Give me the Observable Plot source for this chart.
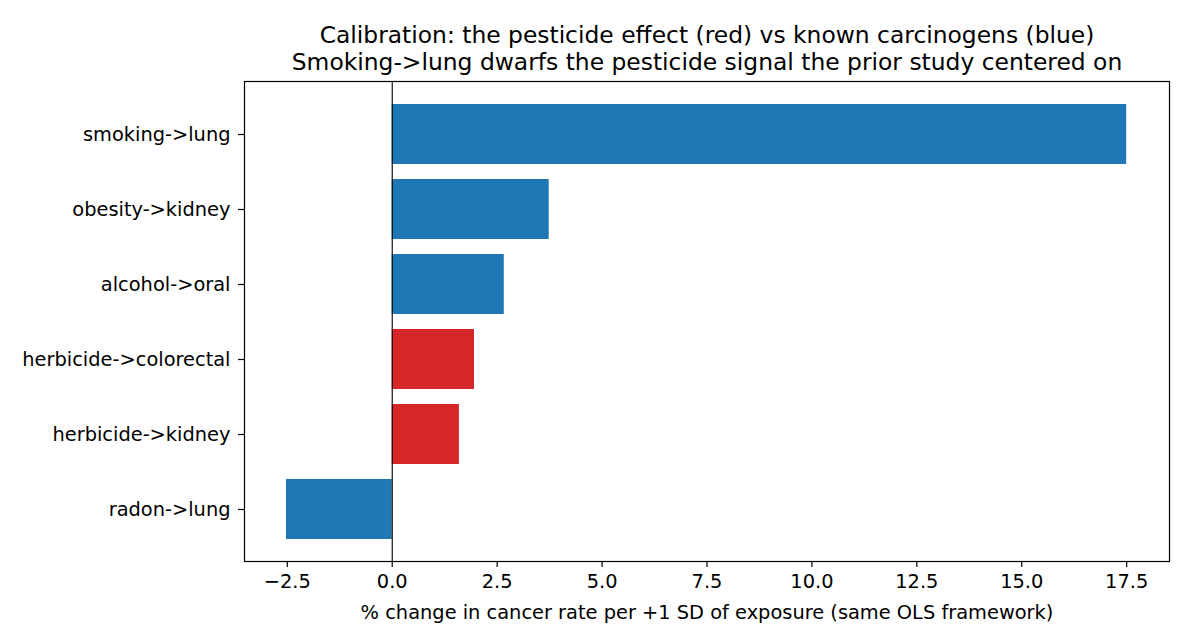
<!DOCTYPE html>
<html>
<head>
<meta charset="utf-8">
<script src="https://cdn.jsdelivr.net/npm/d3@7"></script>
<script src="https://cdn.jsdelivr.net/npm/@observablehq/plot@0.6"></script>
<style>
  body { margin: 0; background: #fff; }
  #chart svg { font-family: "DejaVu Sans", sans-serif; }
</style>
</head>
<body>
<div id="chart"></div>
<script>
// Effect sizes, % change in cancer rate per +1 SD of exposure
const exposures = [
  "smoking->lung",
  "obesity->kidney",
  "alcohol->oral",
  "herbicide->colorectal",
  "herbicide->kidney",
  "radon->lung"
];
const effects = [17.5, 3.74, 2.67, 1.96, 1.60, -2.52];
const groups = ["known", "known", "known", "pesticide", "pesticide", "known"];

const groupNames = ["known", "pesticide"];
const groupColors = ["#1f77b4", "#d62728"];

const xTicks = [-2.5, 0, 2.5, 5, 7.5, 10, 12.5, 15, 17.5];

const titleLines = [
  "Calibration: the pesticide effect (red) vs known carcinogens (blue)",
  "Smoking->lung dwarfs the pesticide signal the prior study centered on"
];
const xLabel = "% change in cancer rate per +1 SD of exposure (same OLS framework)";

const rows = exposures.map((e, i) => ({ exposure: e, effect: effects[i], group: groups[i] }));
const fmt = d => d.toFixed(1).replace("-", "\u2212");

const chart = Plot.plot({
  width: 1190,
  height: 644,
  marginLeft: 244,
  marginRight: 21,
  marginTop: 81,
  marginBottom: 83,
  style: { fontFamily: "DejaVu Sans, sans-serif", fontSize: "19.4px", background: "white", color: "black" },
  x: { domain: [-3.52, 18.52], label: null },
  y: { domain: exposures, paddingInner: 0.2, paddingOuter: 0.275, label: null },
  color: { domain: groupNames, range: groupColors },
  marks: [
    Plot.barX(rows, { x: "effect", y: "exposure", fill: "group" }),
    Plot.ruleX([0], { stroke: "black", strokeWidth: 1.1 }),
    Plot.frame({ stroke: "black", strokeWidth: 1.2 }),
    Plot.axisX({ ticks: xTicks, tickFormat: fmt, tickSize: 6, tickPadding: 7, label: null, strokeWidth: 1.2, fontSize: 19.4 }),
    Plot.axisY({ tickSize: 6, tickPadding: 8, label: null, strokeWidth: 1.2, fontSize: 19.4 }),
    Plot.text([xLabel], { text: d => d, frameAnchor: "bottom", lineAnchor: "middle", dy: 51, fontSize: 19.4, fill: "black" }),
    Plot.text([titleLines[0]], { text: d => d, frameAnchor: "top", lineAnchor: "middle", dy: -46, fontSize: 23.4, fill: "black" }),
    Plot.text([titleLines[1]], { text: d => d, frameAnchor: "top", lineAnchor: "middle", dy: -19, fontSize: 23.4, fill: "black" })
  ]
});

document.getElementById("chart").append(chart);
</script>
</body>
</html>
